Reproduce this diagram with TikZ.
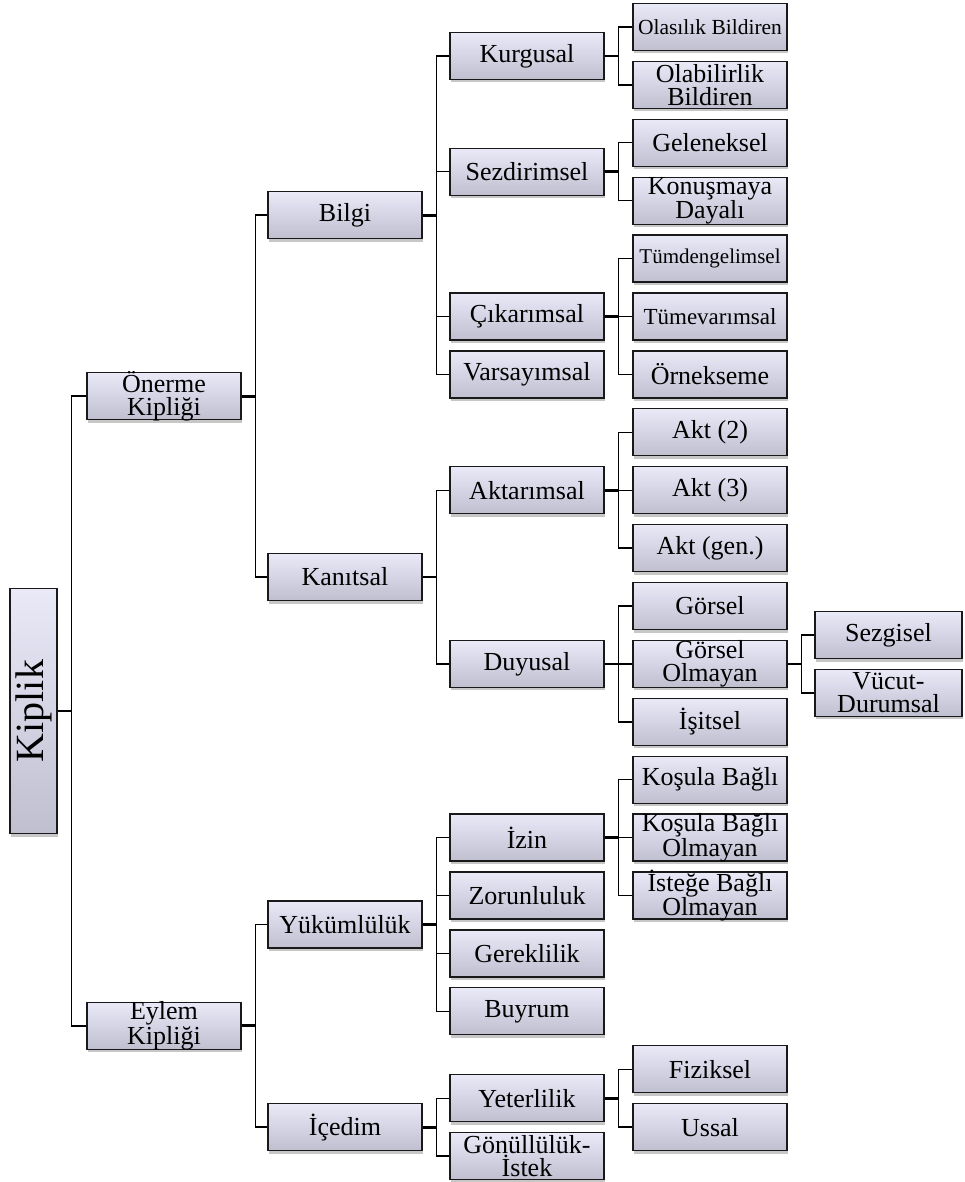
\documentclass[tikz,border=0pt]{standalone}
\usepackage{fontspec}
\setmainfont{Liberation Serif}
\usetikzlibrary{shadows}
\definecolor{ktop}{RGB}{234,233,248}
\definecolor{kbot}{RGB}{192,191,208}

\begin{document}
\begin{tikzpicture}[x=1pt,y=-1pt,
  kbox/.style={draw=black!90,line width=1.3pt,top color=ktop,bottom color=kbot,
    minimum width=154pt,minimum height=47pt,inner xsep=0pt,inner ysep=-5pt,align=center,
    font=\fontsize{26}{23}\selectfont,
    drop shadow={shadow xshift=0.5pt,shadow yshift=-3pt,fill=black,opacity=.22}},
  kline/.style={line width=1.4pt},
  kstub/.style={line width=2.8pt}]
  \useasboundingbox (0,0) rectangle (964,1182);

  \node[kbox,rotate=90,minimum width=245pt,font=\fontsize{40}{40}\selectfont] (kiplik) at (33.5,711) {Kiplik};

  \node[kbox] (onerme) at (164,396.1) {Önerme\\Kipliği};
  \node[kbox] (eylem) at (164,1025.8) {Eylem\\Kipliği};

  \node[kbox] (bilgi) at (345,215.2) {Bilgi};
  \node[kbox] (kanitsal) at (345,577) {Kanıtsal};
  \node[kbox] (yukumluluk) at (345,924.5) {Yükümlülük};
  \node[kbox] (icedim) at (345,1127.1) {İçedim};

  \node[kbox] (kurgusal) at (527,56) {Kurgusal};
  \node[kbox] (sezdirimsel) at (527,171.8) {Sezdirimsel};
  \node[kbox] (cikarimsal) at (527,316.5) {Çıkarımsal};
  \node[kbox] (varsayimsal) at (527,374.4) {Varsayımsal};
  \node[kbox] (aktarimsal) at (527,490.2) {Aktarımsal};
  \node[kbox] (duyusal) at (527,663.9) {Duyusal};
  \node[kbox] (izin) at (527,837.6) {İzin};
  \node[kbox] (zorunluluk) at (527,895.5) {Zorunluluk};
  \node[kbox] (gereklilik) at (527,953.4) {Gereklilik};
  \node[kbox] (buyrum) at (527,1011.3) {Buyrum};
  \node[kbox] (yeterlilik) at (527,1098.2) {Yeterlilik};
  \node[kbox] (gonulluluk) at (527,1156.1) {Gönüllülük-\\İstek};

  \node[kbox,font=\fontsize{21.5}{23}\selectfont] (olasilik) at (710,27) {Olasılık Bildiren};
  \node[kbox] (olabilirlik) at (710,84.9) {Olabilirlik\\Bildiren};
  \node[kbox] (geleneksel) at (710,142.8) {Geleneksel};
  \node[kbox] (konusmaya) at (710,200.7) {Konuşmaya\\Dayalı};
  \node[kbox,font=\fontsize{21}{23}\selectfont] (tumdengelim) at (710,258.6) {Tümdengelimsel};
  \node[kbox,font=\fontsize{23}{23}\selectfont] (tumevarim) at (710,316.5) {Tümevarımsal};
  \node[kbox] (ornekseme) at (710,374.4) {Örnekseme};
  \node[kbox] (akt2) at (710,432.3) {Akt (2)};
  \node[kbox] (akt3) at (710,490.2) {Akt (3)};
  \node[kbox] (aktgen) at (710,548.1) {Akt (gen.)};
  \node[kbox] (gorsel) at (710,606) {Görsel};
  \node[kbox] (gorselolm) at (710,663.9) {Görsel\\Olmayan};
  \node[kbox] (isitsel) at (710,721.8) {İşitsel};
  \node[kbox] (kosula) at (710,779.7) {Koşula Bağlı};
  \node[kbox] (kosulaolm) at (710,837.6) {Koşula Bağlı\\Olmayan};
  \node[kbox] (istege) at (710,895.5) {İsteğe Bağlı\\Olmayan};
  \node[kbox] (fiziksel) at (710,1069.2) {Fiziksel};
  \node[kbox] (ussal) at (710,1127.1) {Ussal};

  \node[kbox,minimum width=147pt] (sezgisel) at (888.5,635) {Sezgisel};
  \node[kbox,minimum width=147pt] (vucut) at (888.5,692.9) {Vücut-\\Durumsal};

  \draw[kline] (kiplik.south) -- ++(14,0) |- (onerme.west);
  \draw[kline] (kiplik.south) -- ++(14,0) |- (eylem.west);

  \draw[kline] (onerme.east) -- ++(14,0) |- (bilgi.west);
  \draw[kline] (onerme.east) -- ++(14,0) |- (kanitsal.west);
  \draw[kline] (eylem.east) -- ++(14,0) |- (yukumluluk.west);
  \draw[kline] (eylem.east) -- ++(14,0) |- (icedim.west);

  \draw[kline] (bilgi.east) -- ++(14,0) |- (kurgusal.west);
  \draw[kline] (bilgi.east) -- ++(14,0) |- (sezdirimsel.west);
  \draw[kline] (bilgi.east) -- ++(14,0) |- (cikarimsal.west);
  \draw[kline] (bilgi.east) -- ++(14,0) |- (varsayimsal.west);
  \draw[kline] (kanitsal.east) -- ++(14,0) |- (aktarimsal.west);
  \draw[kline] (kanitsal.east) -- ++(14,0) |- (duyusal.west);
  \draw[kline] (yukumluluk.east) -- ++(14,0) |- (izin.west);
  \draw[kline] (yukumluluk.east) -- ++(14,0) |- (zorunluluk.west);
  \draw[kline] (yukumluluk.east) -- ++(14,0) |- (gereklilik.west);
  \draw[kline] (yukumluluk.east) -- ++(14,0) |- (buyrum.west);
  \draw[kline] (icedim.east) -- ++(14,0) |- (yeterlilik.west);
  \draw[kline] (icedim.east) -- ++(14,0) |- (gonulluluk.west);

  \draw[kline] (kurgusal.east) -- ++(14,0) |- (olasilik.west);
  \draw[kline] (kurgusal.east) -- ++(14,0) |- (olabilirlik.west);
  \draw[kline] (sezdirimsel.east) -- ++(14,0) |- (geleneksel.west);
  \draw[kline] (sezdirimsel.east) -- ++(14,0) |- (konusmaya.west);
  \draw[kline] (cikarimsal.east) -- ++(14,0) |- (tumdengelim.west);
  \draw[kline] (cikarimsal.east) -- ++(14,0) |- (tumevarim.west);
  \draw[kline] (cikarimsal.east) -- ++(14,0) |- (ornekseme.west);
  \draw[kline] (aktarimsal.east) -- ++(14,0) |- (akt2.west);
  \draw[kline] (aktarimsal.east) -- ++(14,0) |- (akt3.west);
  \draw[kline] (aktarimsal.east) -- ++(14,0) |- (aktgen.west);
  \draw[kline] (duyusal.east) -- ++(14,0) |- (gorsel.west);
  \draw[kline] (duyusal.east) -- ++(14,0) |- (gorselolm.west);
  \draw[kline] (duyusal.east) -- ++(14,0) |- (isitsel.west);
  \draw[kline] (izin.east) -- ++(14,0) |- (kosula.west);
  \draw[kline] (izin.east) -- ++(14,0) |- (kosulaolm.west);
  \draw[kline] (izin.east) -- ++(14,0) |- (istege.west);
  \draw[kline] (yeterlilik.east) -- ++(14,0) |- (fiziksel.west);
  \draw[kline] (yeterlilik.east) -- ++(14,0) |- (ussal.west);

  \draw[kline] (gorselolm.east) -- ++(14,0) |- (sezgisel.west);
  \draw[kline] (gorselolm.east) -- ++(14,0) |- (vucut.west);

  \draw[kstub] (onerme.east) -- ++(14,0);
  \draw[kstub] (eylem.east) -- ++(14,0);
  \draw[kstub] (bilgi.east) -- ++(14,0);
  \draw[kstub] (kanitsal.east) -- ++(14,0);
  \draw[kstub] (yukumluluk.east) -- ++(14,0);
  \draw[kstub] (icedim.east) -- ++(14,0);
  \draw[kstub] (kurgusal.east) -- ++(14,0);
  \draw[kstub] (sezdirimsel.east) -- ++(14,0);
  \draw[kstub] (cikarimsal.east) -- ++(14,0);
  \draw[kstub] (aktarimsal.east) -- ++(14,0);
  \draw[kstub] (duyusal.east) -- ++(14,0);
  \draw[kstub] (izin.east) -- ++(14,0);
  \draw[kstub] (yeterlilik.east) -- ++(14,0);
  \draw[kstub] (gorselolm.east) -- ++(14,0);
\end{tikzpicture}
\end{document}
